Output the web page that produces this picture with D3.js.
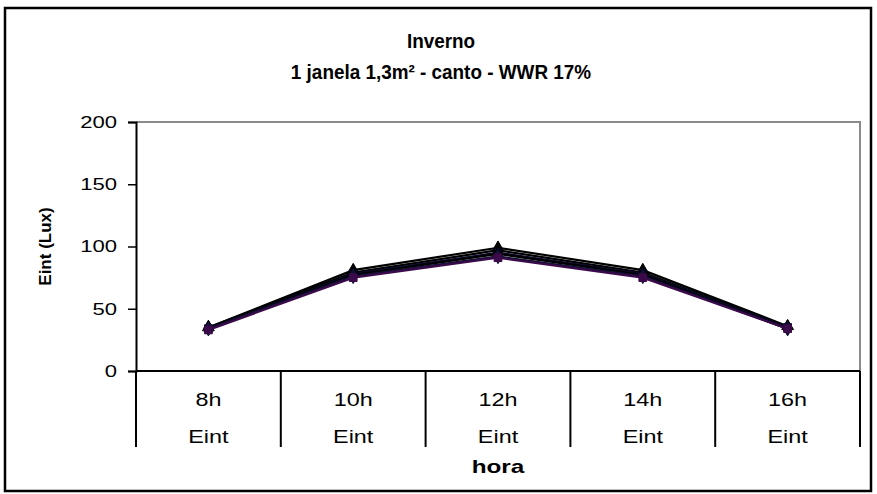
<!DOCTYPE html>
<html>
<head>
<meta charset="utf-8">
<script src="https://cdn.jsdelivr.net/npm/d3@7"></script>
<style>
  html, body { margin: 0; padding: 0; background: #fff; }
  svg { display: block; font-family: "Liberation Sans", Arial, sans-serif; }
</style>
</head>
<body>
<svg id="chart" width="877" height="494"></svg>
<script>
// Hours of the day and the sub-label shown under each one
const hours = ["8h", "10h", "12h", "14h", "16h"];
const subLabel = "Eint";

// Interior illuminance (lux) for each simulated case
const caseA = [35, 81, 99, 81, 36];
const caseB = [35, 79, 97, 79, 35];
const caseC = [34, 78, 95, 78, 35];
const caseD = [34, 77, 94, 77, 34];
const caseE = [34, 76, 92, 76, 34];
const caseF = [33, 75, 91, 75, 34];

const yTicks = [0, 50, 100, 150, 200];

const titleLines = ["Inverno", "1 janela 1,3m² - canto - WWR 17%"];
const yTitle = "Eint (Lux)";
const xTitle = "hora";

const seriesList = [
  { values: caseA, color: "#000000", marker: d3.symbolTriangle },
  { values: caseB, color: "#000000", marker: d3.symbolDiamond },
  { values: caseC, color: "#0a0a2a", marker: d3.symbolSquare },
  { values: caseD, color: "#000000", marker: d3.symbolCircle },
  { values: caseE, color: "#111133", marker: d3.symbolDiamond },
  { values: caseF, color: "#3a0a4a", marker: d3.symbolSquare }
];

const svg = d3.select("#chart");
const plot = { left: 136, right: 860, top: 122, bottom: 371 };

// Text placed at (x, y) and widened/narrowed by sx
function wideText(sel, x, y, sx) {
  return sel.attr("x", x / sx).attr("y", y).attr("transform", `scale(${sx},1)`);
}

// Outer chart frame
svg.append("rect")
  .attr("x", 5).attr("y", 8).attr("width", 866).attr("height", 483)
  .attr("fill", "#fff").attr("stroke", "#000").attr("stroke-width", 2.5);

// Titles
titleLines.forEach((t, i) => {
  wideText(svg.append("text"), 441, 48 + i * 31, 0.9)
    .attr("text-anchor", "middle")
    .attr("font-size", 21).attr("font-weight", "bold")
    .text(t);
});

const x = d3.scaleBand().domain(hours).range([plot.left, plot.right]).padding(0);
const y = d3.scaleLinear().domain([0, 200]).range([plot.bottom, plot.top]);

// Plot area border (top and right in grey)
svg.append("path")
  .attr("d", `M${plot.left},${plot.top}H${plot.right}V${plot.bottom}`)
  .attr("fill", "none").attr("stroke", "#8a8a8a").attr("stroke-width", 2);

// Value axis
const tickSX = 1.3;
const yAxis = svg.append("g")
  .attr("transform", `translate(${plot.left},0)`)
  .call(d3.axisLeft(y).tickValues(yTicks).tickSize(8).tickPadding(11));
yAxis.select(".domain").attr("stroke", "#000").attr("stroke-width", 2);
yAxis.selectAll(".tick line").attr("stroke", "#000").attr("stroke-width", 1.5);
yAxis.selectAll(".tick text")
  .attr("font-size", 17).attr("fill", "#000")
  .attr("font-family", "Liberation Sans, Arial, sans-serif")
  .attr("x", -19 / tickSX)
  .attr("transform", `scale(${tickSX},1)`);

svg.append("text")
  .attr("transform", `translate(51,${(plot.top + plot.bottom) / 2}) rotate(-90)`)
  .attr("text-anchor", "middle")
  .attr("font-size", 17).attr("font-weight", "bold")
  .text(yTitle);

// Category axis with two label rows and separators
const catBottom = 447;
svg.append("line")
  .attr("x1", plot.left).attr("x2", plot.right)
  .attr("y1", plot.bottom).attr("y2", plot.bottom)
  .attr("stroke", "#000").attr("stroke-width", 2);

const edges = hours.map(h => x(h)).concat([x(hours[hours.length - 1]) + x.bandwidth()]);
svg.selectAll("line.sep").data(edges).enter().append("line")
  .attr("class", "sep")
  .attr("x1", d => d).attr("x2", d => d)
  .attr("y1", plot.bottom).attr("y2", catBottom)
  .attr("stroke", "#000").attr("stroke-width", 2);

const catSX = 1.3;
hours.forEach(h => {
  const cx = x(h) + x.bandwidth() / 2;
  wideText(svg.append("text"), cx, 406, catSX)
    .attr("text-anchor", "middle").attr("font-size", 18)
    .text(h);
  wideText(svg.append("text"), cx, 443, catSX)
    .attr("text-anchor", "middle").attr("font-size", 18)
    .text(subLabel);
});

wideText(svg.append("text"), (plot.left + plot.right) / 2, 473, 1.35)
  .attr("text-anchor", "middle")
  .attr("font-size", 18).attr("font-weight", "bold")
  .text(xTitle);

// Lines and markers
const line = d3.line()
  .x((d, i) => x(hours[i]) + x.bandwidth() / 2)
  .y(d => y(d));

const groups = svg.selectAll("g.series").data(seriesList).enter().append("g")
  .attr("class", "series");

groups.append("path")
  .attr("d", s => line(s.values))
  .attr("fill", "none")
  .attr("stroke", s => s.color)
  .attr("stroke-width", 2.2);

groups.each(function (s) {
  d3.select(this).selectAll("path.mk").data(s.values).enter().append("path")
    .attr("class", "mk")
    .attr("transform", (d, i) => `translate(${x(hours[i]) + x.bandwidth() / 2},${y(d)})`)
    .attr("d", d3.symbol().type(s.marker).size(60))
    .attr("fill", s.color)
    .attr("stroke", s.color);
});
</script>
</body>
</html>
